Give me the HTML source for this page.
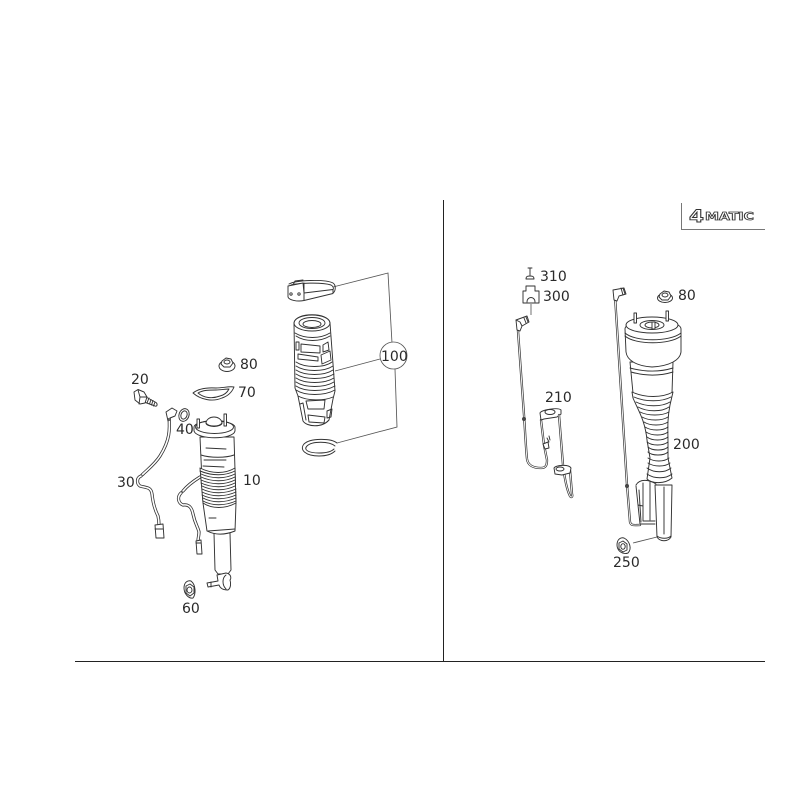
<!DOCTYPE html>
<html><head><meta charset="utf-8"><style>
html,body{margin:0;padding:0;background:#fff;width:800px;height:800px;overflow:hidden}
svg{display:block}
text{font-family:"DejaVu Sans",sans-serif;font-size:14px;fill:#2a2a2a}
.p{fill:none;stroke:#333;stroke-width:.95;stroke-linejoin:round;stroke-linecap:round}
.w{fill:#fff;stroke:#333;stroke-width:.95;stroke-linejoin:round}
.l{fill:none;stroke:#555;stroke-width:.85}
.t{fill:none;stroke:#333;stroke-width:3.2;stroke-linecap:round;stroke-linejoin:round}
.i{fill:none;stroke:#fff;stroke-width:1.6;stroke-linecap:round;stroke-linejoin:round}
.a{filter:url(#b)}
</style></head><body>
<svg width="800" height="800" viewBox="0 0 800 800" xmlns="http://www.w3.org/2000/svg">
<defs><filter id="b" x="-5%" y="-5%" width="110%" height="110%"><feGaussianBlur stdDeviation="0.3"/></filter></defs>
<path d="M75 661.5H765M443.5 200V661.5" fill="none" stroke="#222" stroke-width="1"/>
<path d="M681.5 203V229.5H765" fill="none" stroke="#777" stroke-width="1"/>
<text x="689" y="222" textLength="15" lengthAdjust="spacingAndGlyphs" style="font-size:17px;font-weight:bold;fill:#fff;stroke:#333;stroke-width:.9">4</text>
<text x="705" y="220" textLength="49" lengthAdjust="spacingAndGlyphs" style="font-size:11px;font-weight:bold;fill:#fff;stroke:#333;stroke-width:.8">MATIC</text>

<g class="a">
<!-- leaders 100 -->
<path class="l" d="M333 287L388 273L392 343M395 369L397 427L337 443M335 371L380 359"/>
<circle cx="393.500" cy="355.500" r="13.500" fill="#fff" stroke="#555" stroke-width=".85"/>

<!-- band -->
<path class="p" d="M289 284C296 280 325 279 333 283C336 285 336 291 333 293"/>
<path class="p" d="M291 285C298 283 322 282 331 285C333 286 334 288 333 290"/>
<path class="w" d="M288 286L303 283L304 293L333 289.500L333 293.500L304 300.500C297 302 289 300 288 297Z"/>
<path class="p" d="M304 283V300M293 285L295 281L303 280"/>
<circle class="p" cx="291" cy="294" r="1.200"/><circle class="p" cx="299" cy="294" r="1.200"/>

<!-- boot -->
<path class="w" d="M294 323C295 312 329 312 330 323L335 391L333 399L329 420C322 428 307 427 303 421L298 396L295 388Z"/>
<ellipse class="p" cx="312" cy="323" rx="18" ry="8"/>
<ellipse class="p" cx="312" cy="323" rx="13" ry="5.500"/>
<ellipse class="p" cx="312" cy="324" rx="9" ry="3.500"/>
<path class="p" d="M295 333C305 339 320 339 330 333M296 336C305 342 320 342 330 336M296 342H299V350H296ZM301 344L320 346V353L301 352ZM323 345L328 342L329 350L323 352ZM298 354L318 357V361L298 359ZM321 355L330 351L331 360L322 364Z"/>
<path class="p" d="M296 362C305 368 324 368 332 362M296 366C305 372 324 372 333 366M296 370C305 376 324 376 333 370M296 374C305 380 324 380 334 374M296 378C305 384 324 384 334 378M296 382C305 388 324 388 334 382M296 386C305 392 324 392 335 386M296 390C305 396 324 396 335 390M298 396C307 401 324 401 333 397"/>
<path class="p" d="M306 401L325 400L324 409L308 409ZM308 415L325 417L324 423L309 422ZM327 411L332 409L331 417L327 418ZM300 404L303 403L306 420"/>

<!-- ring -->
<path class="p" d="M337 443C331 438 310 438 304 444C299 450 306 456 319 456C326 456 332 454 335 451"/>
<path class="p" d="M335 446C329 441 312 441 307 446C303 450 309 453 319 453C326 453 331 452 334 449"/>

<!-- 80 nut left -->
<ellipse class="p" cx="227" cy="366" rx="8" ry="5.500"/>
<path class="w" d="M222 361L226 358L231 359L233 363L230 367L224 367L221 364Z"/>
<ellipse class="p" cx="227" cy="362" rx="3" ry="2"/>
<!-- gasket 70 -->
<path class="w" d="M193 393C199 388 208 387.500 216 388C223 388 229 386 234 387C232 392 228 396 222 398C213 402 201 400 193 393Z"/>
<path class="p" d="M198 393C203 390 209 390 216 390C221 390 225 389 229 389C227 393 224 395 220 396C212 399 204 398 198 393Z"/>
<!-- bolt 20 -->
<path class="w" d="M146 397L156 402.500C158 404 157 407 155 406L144 402Z"/>
<path class="p" d="M149 398L147 403M151 399.500L149.500 404M153 400.500L151.500 405M155 402L153.500 406"/>
<path class="w" d="M134 392L138 389.500L144 392L147 397L145 403L140 404L135 400Z"/>
<path class="p" d="M138 390L140 397L139 404M140 397L147 397"/>
<!-- washer 40 -->
<ellipse class="p" cx="184" cy="415" rx="5" ry="6.500" transform="rotate(20 184 415)"/>
<ellipse class="p" cx="184" cy="415" rx="3" ry="4.200" transform="rotate(20 184 415)"/>

<!-- left strut cable 30 -->
<path class="t" d="M169 415C170 430 170 440 160 456C155 464 147 470 142 475"/>
<path class="i" d="M169 415C170 430 170 440 160 456C155 464 147 470 142 475"/>
<path class="t" d="M141 476C136 478 137 484 140 486C147 488 151 487 152 494C153 504 155 510 158 516C159 520 159 522 159 525"/>
<path class="i" d="M141 476C136 478 137 484 140 486C147 488 151 487 152 494C153 504 155 510 158 516C159 520 159 522 159 525"/>
<path class="w" d="M155 525L163 524L164 538L156 538Z"/>
<path class="p" d="M155 529H163"/>
<path class="w" d="M166 412L172 408L177 411L175 416L170 418L168 419L170 420L168 421Z"/>

<!-- second cable -->
<path class="t" d="M200 477C192 482 187 486 183 491"/>
<path class="i" d="M200 477C192 482 187 486 183 491"/>
<path class="t" d="M181 493C177 497 178 503 183 505C190 504 192 509 193 514C195 524 198 527 199 532C199 536 198 538 198 541"/>
<path class="i" d="M181 493C177 497 178 503 183 505C190 504 192 509 193 514C195 524 198 527 199 532C199 536 198 538 198 541"/>
<path class="w" d="M196 541L201 540L202 554L197 554Z"/>
<path class="p" d="M196 543H201"/>

<!-- left strut -->
<path class="w" d="M214 533H230L231 570L228 574H218L215 570Z"/>
<path class="w" d="M200 437L234 437L236 503L235 531C225 535 215 535 207 531L203 503Z"/>
<path class="p" d="M201 455C210 458 226 458 234 455M203 466L224 467M206 448L226 449M204 460L226 460M209 518H216M208 531L235 529"/>
<path class="w" d="M200 468C212 474 225 474 235 468L236 503C225 509 212 509 203 503Z"/>
<path class="p" d="M200 471C212 476 225 476 235 471M201 474C212 479 225 479 235 474M201 477C212 482 225 482 235 477M201 480C212 485 225 485 235 480M201 483C212 488 225 488 235 483M202 486C212 491 225 491 235 486M202 489C212 494 225 494 236 489M202 492C212 497 225 497 236 492M202 495C212 500 225 500 236 495M203 498C212 503 225 503 236 498M203 501C212 506 225 506 236 501"/>
<path class="w" d="M194 427C195 419 233 419 235 427L235 431C233 440 197 440 194 431Z"/>
<ellipse class="p" cx="214.500" cy="427" rx="19" ry="6.500"/>
<ellipse class="w" cx="214" cy="423" rx="8" ry="3.500"/>
<path class="w" d="M206 423C207 415 221 415 222 423C219 427 209 427 206 423Z"/>
<path class="w" d="M197 419H199.500V428H197ZM224 414H226.500V426H224Z"/>
<path class="w" d="M217 575L226 573C232 574 231 579 230 580C231 583 231 588 228 590C223 590 220 588 219 585L208 587L207 583L218 581Z"/>
<path class="p" d="M226 575C222 578 222 585 226 589M211 582V587"/>

<!-- nut 60 -->
<path class="w" d="M184 588C184 582 188 580 191 581C196 585 196 594 193 598C189 599 184 594 184 588Z"/>
<path class="p" d="M186 586L190 584L194 587L194 593L190 596L186 593Z"/>
<ellipse class="p" cx="189.500" cy="590" rx="2.500" ry="3"/>

<!-- right 310/300 -->
<path class="p" d="M530 268V276M528 268H532M526 279C526 276 528 276 530 276C532 276 534 276 534 279Z"/>
<path class="w" d="M526 286H535V291H539V303H523V291H526Z"/>
<path class="p" d="M527 302C527 296 535 296 535 302"/>
<path class="l" d="M531 304V315"/>
<!-- sensor wire 1 -->
<path class="t" d="M518 331L524 415C525 430 526 450 527 459C528 466 534 468 541 468C546 468 547 465 547 460L544 445L541 420" style="stroke-width:2.300"/>
<path class="i" d="M518 331L524 415C525 430 526 450 527 459C528 466 534 468 541 468C546 468 547 465 547 460L544 445L541 420" style="stroke-width:.9"/>
<path class="w" d="M516 320L527 316L529 322L522 326L520 331L517 330Z"/>
<path class="p" d="M524 318L526 323M526 317L528 322M516 320L520 322L522 326"/>
<circle cx="524" cy="419" r="2" fill="#444"/>
<path class="w" d="M540 413C541 410 558 407 561 410L561 414L557 417L544 419L541 420Z"/>
<ellipse class="p" cx="550" cy="412" rx="5" ry="2.500"/>
<path class="w" d="M543 444L548 442L549 448L545 449Z"/>
<path class="p" d="M547 438L549 442M549 436L550 440"/>
<path class="t" d="M559 415L563 465C565 482 567 490 570 496C571 498 573 497 572 494L570 470" style="stroke-width:2.300"/>
<path class="i" d="M559 415L563 465C565 482 567 490 570 496C571 498 573 497 572 494L570 470" style="stroke-width:.9"/>
<path class="w" d="M554 468C556 465 569 464 571 468L570 473L562 475L555 474Z"/>
<ellipse class="p" cx="560" cy="469" rx="4" ry="2"/>

<!-- right strut wire -->
<path class="t" d="M615 296L627 485L630 522C631 526 634 525 640 525" style="stroke-width:2.300"/>
<path class="i" d="M615 296L627 485L630 522C631 526 634 525 640 525" style="stroke-width:.9"/>
<path class="w" d="M613 290L624 288L626 294L619 296L617 301L614 300Z"/>
<path class="p" d="M621 288L623 295M623 288L625 294"/>
<circle cx="627" cy="486" r="2" fill="#444"/>
<!-- nut 80 right -->
<ellipse class="p" cx="665" cy="298" rx="7.500" ry="4.500"/>
<path class="w" d="M660 294L664 291L669 292L671 296L668 300L662 300L659 297Z"/>
<ellipse class="p" cx="665" cy="295" rx="3" ry="2"/>

<!-- right strut -->
<path class="p" d="M636 485C640 478 650 480 656 484M639 490L641 522M638 505L643 506M636 486L640 524H655M643 483V521H655M650 482V520"/>
<path class="w" d="M655 485H672L671 537C668 542 660 542 657 537Z"/>
<path class="p" d="M657 536C661 539 668 539 671 536M664 487V534"/>
<path class="w" d="M630 362H673L672 393C660 399 643 399 633 393Z"/>
<path class="p" d="M630 368C645 372 660 372 673 368M631 372C645 376 660 376 673 372"/>
<path class="w" d="M625 329C625 318 681 318 681 329L681 352C680 360 670 366 652 367C636 366 627 360 626 352Z"/>
<path class="p" d="M625 333C635 342 670 342 681 333M625 336C635 345 670 345 681 336"/>
<ellipse class="w" cx="652" cy="325" rx="26" ry="8"/>
<ellipse class="p" cx="652" cy="325" rx="12" ry="4.500"/>
<ellipse class="w" cx="652" cy="325" rx="7" ry="3"/>
<path class="w" d="M634 313H636.500V323H634ZM666 311H668.500V321H666ZM652 322H655V329H652Z"/>
<path class="w" d="M632 392C645 398 662 398 673 392L670 405C667 420 668 430 668 445L668 458L672 478C665 484 652 484 647 479L650 458L647 440C645 420 638 410 633 398Z"/>
<path class="p" d="M634 397C645 402 662 402 671 397M636 402C646 407 662 407 670 402M638 407C647 412 662 412 669 407M640 412C648 416 662 416 669 412M642 417C649 421 662 421 668 417M644 422C650 426 662 426 668 422M645 427C651 431 663 431 668 427M646 432C652 436 663 436 668 432M647 437C652 441 663 441 668 437M647 442C652 446 663 446 668 442M648 447C652 451 664 451 668 447M648 452C652 456 664 456 668 452M648 458C654 462 664 462 669 458M648 463C654 467 665 467 670 463M647 468C654 473 665 473 671 468M647 474C654 479 666 479 672 474"/>
<!-- nut 250 -->
<path class="l" d="M633 543L657 537"/>
<path class="w" d="M617 545C617 539 621 537 624 538C630 541 632 549 628 553C623 555 617 551 617 545Z"/>
<path class="p" d="M619 543L623 541L627 544L627 550L623 552L619 549Z"/>
<ellipse class="p" cx="623" cy="546.500" rx="2.200" ry="2.800"/>
</g>

<text x="131" y="384">20</text>
<text x="240" y="369">80</text>
<text x="238" y="397">70</text>
<text x="176" y="434">40</text>
<text x="117" y="487">30</text>
<text x="243" y="485">10</text>
<text x="182" y="613">60</text>
<text x="381" y="361">100</text>
<text x="540" y="281">310</text>
<text x="543" y="301">300</text>
<text x="545" y="402">210</text>
<text x="678" y="300">80</text>
<text x="673" y="449">200</text>
<text x="613" y="567">250</text>
</svg>
</body></html>
